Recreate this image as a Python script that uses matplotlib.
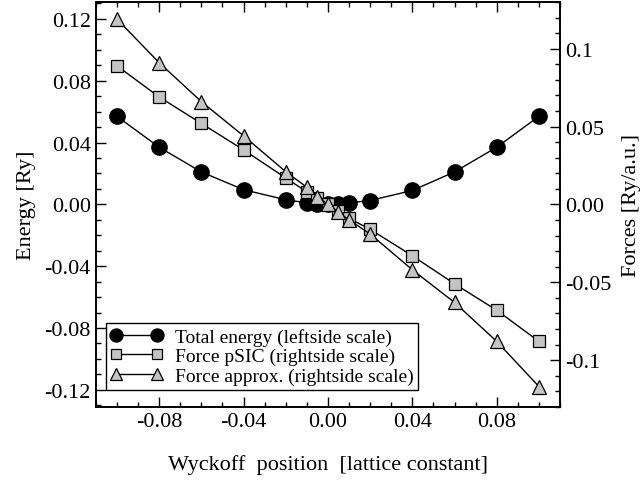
import numpy as np
import matplotlib
matplotlib.use("Agg")
import matplotlib.pyplot as plt
from matplotlib.ticker import MultipleLocator, FixedLocator

plt.rcParams['font.family'] = ['Liberation Serif', 'DejaVu Serif']
plt.rcParams['axes.unicode_minus'] = False

# Wyckoff positions (lattice constant)
x_pos = [-0.10, -0.08, -0.06, -0.04, -0.02, -0.01, -0.005, 0.0, 0.005, 0.01, 0.02, 0.04, 0.06, 0.08, 0.10]

# total energy [Ry] (left scale)
energy = [0.057, 0.037, 0.021, 0.0095, 0.003, 0.001, 0.0003, 0.0, 0.0003, 0.001, 0.0025, 0.009, 0.021, 0.037, 0.057]

# forces [Ry/a.u.] (right scale)
force_psic = [0.089, 0.069, 0.052, 0.035, 0.017, 0.008, 0.004, 0.0, -0.004, -0.009, -0.016, -0.033, -0.051, -0.068, -0.088]
force_approx = [0.119, 0.091, 0.066, 0.044, 0.021, 0.011, 0.005, 0.0, -0.005, -0.010, -0.019, -0.042, -0.063, -0.088, -0.117]

left_ticks = [-0.12, -0.08, -0.04, 0.00, 0.04, 0.08, 0.12]
right_ticks = [-0.1, -0.05, 0.0, 0.05, 0.1]
right_labels = ["-0.1", "-0.05", "0.00", "0.05", "0.1"]
x_ticks = [-0.08, -0.04, 0.00, 0.04, 0.08]

fig = plt.figure(figsize=(6.43, 4.89), dpi=100)
ax = fig.add_axes([0.149, 0.166, 0.722, 0.828])
ax2 = ax.twinx()

gray = '#c4c4c4'
l1, = ax.plot(x_pos, energy, color='black', lw=1, marker='o', ms=11,
              mfc='black', mec='black', label='Total energy (leftside scale)', zorder=3)
l2, = ax2.plot(x_pos, force_psic, color='black', lw=1, marker='s', ms=8.5,
               mfc=gray, mec='black', mew=0.9, label='Force pSIC (rightside scale)')
l3, = ax2.plot(x_pos, force_approx, color='black', lw=1, marker='^', ms=10,
               mfc=gray, mec='black', mew=0.9, label='Force approx. (rightside scale)')

ax.set_xlim(-0.11, 0.11)
ax.set_ylim(-0.131, 0.131)
ax2.set_ylim(-0.13, 0.13)

ax.xaxis.set_major_locator(FixedLocator(x_ticks))
ax.xaxis.set_minor_locator(MultipleLocator(0.01))
ax.set_xticklabels(["%.2f" % v for v in x_ticks])
ax.yaxis.set_major_locator(FixedLocator(left_ticks))
ax.yaxis.set_minor_locator(MultipleLocator(0.01))
ax.set_yticklabels(["%.2f" % v for v in left_ticks])
ax2.yaxis.set_major_locator(FixedLocator(right_ticks))
ax2.yaxis.set_minor_locator(MultipleLocator(0.01))
ax2.set_yticklabels(right_labels)

ax.tick_params(which='both', direction='in', top=True, right=False, labelsize=16)
ax.tick_params(which='major', length=7, width=1)
ax.tick_params(which='minor', length=3.5, width=1)
ax2.tick_params(which='both', direction='in', labelsize=16)
ax2.tick_params(which='major', length=7, width=1)
ax2.tick_params(which='minor', length=3.5, width=1)
for a in (ax, ax2):
    for s in a.spines.values():
        s.set_linewidth(1.2)

ax.set_xlabel("Wyckoff  position  [lattice constant]", fontsize=16, labelpad=17)
ax.set_ylabel("Energy [Ry]", fontsize=16, labelpad=6)
ax2.set_ylabel("Forces [Ry/a.u.]", fontsize=16, labelpad=8)

leg = ax2.legend(handles=[l1, l2, l3], loc='lower left', bbox_to_anchor=(0.021, 0.042),
                 numpoints=2, fontsize=14, frameon=True, fancybox=False, framealpha=1,
                 edgecolor='black', borderaxespad=0, handlelength=2.7,
                 handletextpad=0.6, borderpad=0.25, labelspacing=0.1,
                 markerscale=0.85)
leg.get_frame().set_linewidth(1)

fig.savefig("out.png", dpi=100)
